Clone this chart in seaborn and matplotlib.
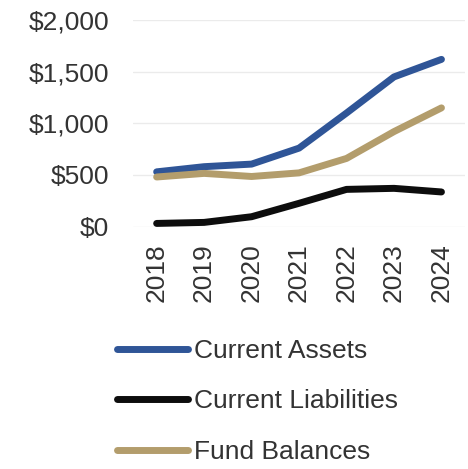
import pandas as pd
import matplotlib
matplotlib.use("Agg")
import matplotlib.pyplot as plt
import seaborn as sns

# values
years = [2018, 2019, 2020, 2021, 2022, 2023, 2024]
current_assets = [530, 580, 605, 760, 1100, 1450, 1620]
current_liabilities = [30, 40, 95, 225, 360, 370, 335]
fund_balances = [480, 515, 485, 520, 660, 920, 1150]
series_names = ["Current Assets", "Current Liabilities", "Fund Balances"]
colors = ["#2F5597", "#0D0D0D", "#B39D6C"]

df = pd.DataFrame({
    "Year": years * 3,
    "Value": current_assets + current_liabilities + fund_balances,
    "Series": [series_names[0]] * 7 + [series_names[1]] * 7 + [series_names[2]] * 7,
})

sns.set_style("white")
plt.rcParams["font.family"] = ["Liberation Sans", "DejaVu Sans"]
text_color = "#333333"

fig = plt.figure(figsize=(4.68, 4.69), dpi=100)
ax = fig.add_axes([0.284, 0.517, 0.71, 0.44])

sns.lineplot(data=df, x="Year", y="Value", hue="Series", palette=colors,
             linewidth=5, ax=ax, legend=False, solid_capstyle="round")

ax.set_xlim(2017.5, 2024.5)
ax.set_ylim(0, 2000)
ax.set_yticks([0, 500, 1000, 1500, 2000])
ax.set_yticklabels(["$0", "$500", "$1,000", "$1,500", "$2,000"])
ax.set_xticks(years)
ax.set_xticklabels([str(y) for y in years], rotation=90)
ax.tick_params(axis="y", length=0, pad=17, labelsize=19, labelcolor=text_color)
ax.tick_params(axis="x", length=0, pad=12, labelsize=19, labelcolor=text_color)
ax.grid(axis="y", color="#EBEBEB", linewidth=1)
ax.set_axisbelow(True)
for s in ax.spines.values():
    s.set_visible(False)
ax.set_xlabel("")
ax.set_ylabel("")

handles = [plt.Line2D([], [], color=c, linewidth=5, solid_capstyle="round") for c in colors]
fig.legend(handles, series_names, loc="upper left", bbox_to_anchor=(117 / 468, 1 - 339 / 469),
           frameon=False, fontsize=19, handlelength=2.7, handletextpad=0.2,
           labelspacing=1.0, borderpad=0, borderaxespad=0, labelcolor=text_color)

fig.savefig("out.png", dpi=100)
